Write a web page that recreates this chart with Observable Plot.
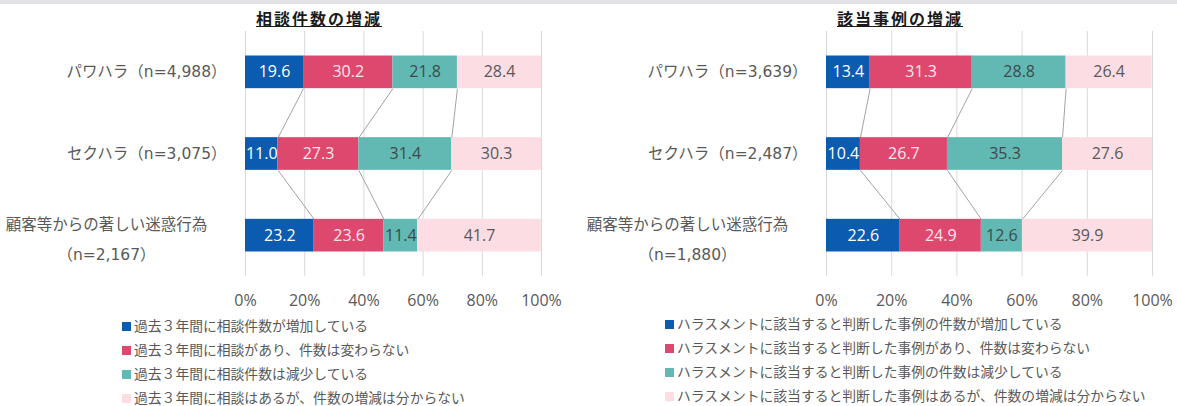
<!DOCTYPE html>
<html><head><meta charset="utf-8">
<script src="https://cdn.jsdelivr.net/npm/d3@7"></script>
<script src="https://cdn.jsdelivr.net/npm/@observablehq/plot@0.6"></script>
<style>
body{margin:0;background:#fff;}
#wrap{position:relative;width:1177px;height:406px;overflow:hidden;background:#fff;}
.topbar{position:absolute;left:0;top:0;width:1177px;height:4px;background:#e2e3e8;}
.title{position:absolute;top:8px;line-height:20px;font-weight:bold;font-size:16px;letter-spacing:2px;text-decoration:underline;color:#1a1a1a;font-family:"Noto Sans CJK JP",sans-serif;transform:translateX(-50%);white-space:nowrap;}
.panel{position:absolute;top:0;}
.leg{position:absolute;white-space:nowrap;font-size:13.8px;line-height:14px;color:#595959;font-family:"Noto Sans CJK JP",sans-serif;transform:translateY(-50%);}
.sw{display:inline-block;width:9px;height:9px;margin-right:3px;vertical-align:0px;}
</style></head>
<body><div id="wrap"><div class="topbar"></div></div>
<script>
// ---- data ----
const colors = ["#0b5cb0", "#df486e", "#62b8b2", "#fcdde3"];
const textColors = ["#ffffff", "#fde6ec", "#3d4a4a", "#595959"];
const xTicks = [0, 20, 40, 60, 80, 100];

const leftTitle = "相談件数の増減";
const leftCats = ["パワハラ（n=4,988）", "セクハラ（n=3,075）", "顧客等からの著しい迷惑行為\n（n=2,167）"];
const leftIncrease = [19.6, 11.0, 23.2];
const leftSame = [30.2, 27.3, 23.6];
const leftDecrease = [21.8, 31.4, 11.4];
const leftUnknown = [28.4, 30.3, 41.7];
const leftLegend = ["過去３年間に相談件数が増加している", "過去３年間に相談があり、件数は変わらない", "過去３年間に相談件数は減少している", "過去３年間に相談はあるが、件数の増減は分からない"];

const rightTitle = "該当事例の増減";
const rightCats = ["パワハラ（n=3,639）", "セクハラ（n=2,487）", "顧客等からの著しい迷惑行為\n（n=1,880）"];
const rightIncrease = [13.4, 10.4, 22.6];
const rightSame = [31.3, 26.7, 24.9];
const rightDecrease = [28.8, 35.3, 12.6];
const rightUnknown = [26.4, 27.6, 39.9];
const rightLegend = ["ハラスメントに該当すると判断した事例の件数が増加している", "ハラスメントに該当すると判断した事例があり、件数は変わらない", "ハラスメントに該当すると判断した事例の件数は減少している", "ハラスメントに該当すると判断した事例はあるが、件数の増減は分からない"];

const FONT = '"Open Sans","Noto Sans CJK JP",sans-serif';
const LFONT = '"DejaVu Sans","Noto Sans CJK JP",sans-serif';

function panel({cats, vals, width, marginLeft, marginRight}) {
  const rows = [];
  cats.forEach((c, i) => {
    let acc = 0;
    vals.forEach((arr, k) => { rows.push({i, k, v: arr[i], x1: acc, x2: acc + arr[i]}); acc += arr[i]; });
  });
  const links = [];
  for (let i = 0; i < cats.length - 1; i++) {
    for (let k = 0; k < vals.length - 1; k++) {
      const a = rows.find(r => r.i === i && r.k === k), b = rows.find(r => r.i === i + 1 && r.k === k);
      links.push({i, x1: a.x2, x2: b.x2});
    }
  }
  const H = 0.2;
  const labels = cats.map((c, i) => ({i, c, multi: c.includes("\n")}));
  return Plot.plot({
    width, height: 315, marginLeft, marginRight, marginTop: 31, marginBottom: 39,
    style: {fontFamily: FONT, fontSize: "16px", color: "#595959", background: "transparent", overflow: "visible"},
    x: {domain: [0, 100], ticks: xTicks, tickFormat: d => d + "%", tickSize: 0, tickPadding: 18, label: null},
    y: {domain: [-0.5, cats.length - 0.5], reverse: true, axis: null},
    marks: [
      Plot.gridX(xTicks, {stroke: "#d9d9d9", strokeOpacity: 1}),
      Plot.link(links, {x1: "x1", y1: d => d.i + H, x2: "x2", y2: d => d.i + 1 - H, stroke: "#a3a3a3", strokeWidth: 1}),
      Plot.rectX(rows, {x1: "x1", x2: "x2", y1: d => d.i - H, y2: d => d.i + H, fill: d => colors[d.k]}),
      Plot.text(rows, {x: d => (d.x1 + d.x2) / 2, y: "i", text: d => d.v.toFixed(1), fill: d => textColors[d.k], fontSize: 16, fontFamily: FONT}),
      Plot.text(labels.filter(d => !d.multi), {frameAnchor: "left", y: "i", text: "c", textAnchor: "end", dx: -19, fontSize: 15.5, fill: "#595959", fontFamily: LFONT}),
      Plot.text(labels.filter(d => d.multi), {frameAnchor: "left", y: "i", text: "c", textAnchor: "middle", dx: -139, lineHeight: 1.95, fontSize: 15.5, fill: "#595959", fontFamily: LFONT})
    ]
  });
}

const wrap = document.getElementById("wrap");
function addPanel(left, width, title, titleX, svg, legend, legX, legY) {
  const p = document.createElement("div");
  p.className = "panel"; p.style.left = left + "px"; p.style.width = width + "px";
  p.appendChild(svg);
  wrap.appendChild(p);
  const t = document.createElement("div");
  t.className = "title"; t.style.left = titleX + "px"; t.textContent = title;
  wrap.appendChild(t);
  legend.forEach((txt, k) => {
    const d = document.createElement("div");
    d.className = "leg"; d.style.left = legX + "px"; d.style.top = legY[k] + "px";
    const s = document.createElement("span"); s.className = "sw"; s.style.background = colors[k];
    d.appendChild(s); d.appendChild(document.createTextNode(txt));
    wrap.appendChild(d);
  });
}

addPanel(0, 588, leftTitle, 319,
  panel({cats: leftCats, vals: [leftIncrease, leftSame, leftDecrease, leftUnknown], width: 588, marginLeft: 245, marginRight: 47}),
  leftLegend, 122, [325, 349, 373, 397]);
addPanel(588, 589, rightTitle, 900,
  panel({cats: rightCats, vals: [rightIncrease, rightSame, rightDecrease, rightUnknown], width: 589, marginLeft: 238, marginRight: 25}),
  rightLegend, 665, [323, 347, 371, 395]);
</script>
</body></html>
